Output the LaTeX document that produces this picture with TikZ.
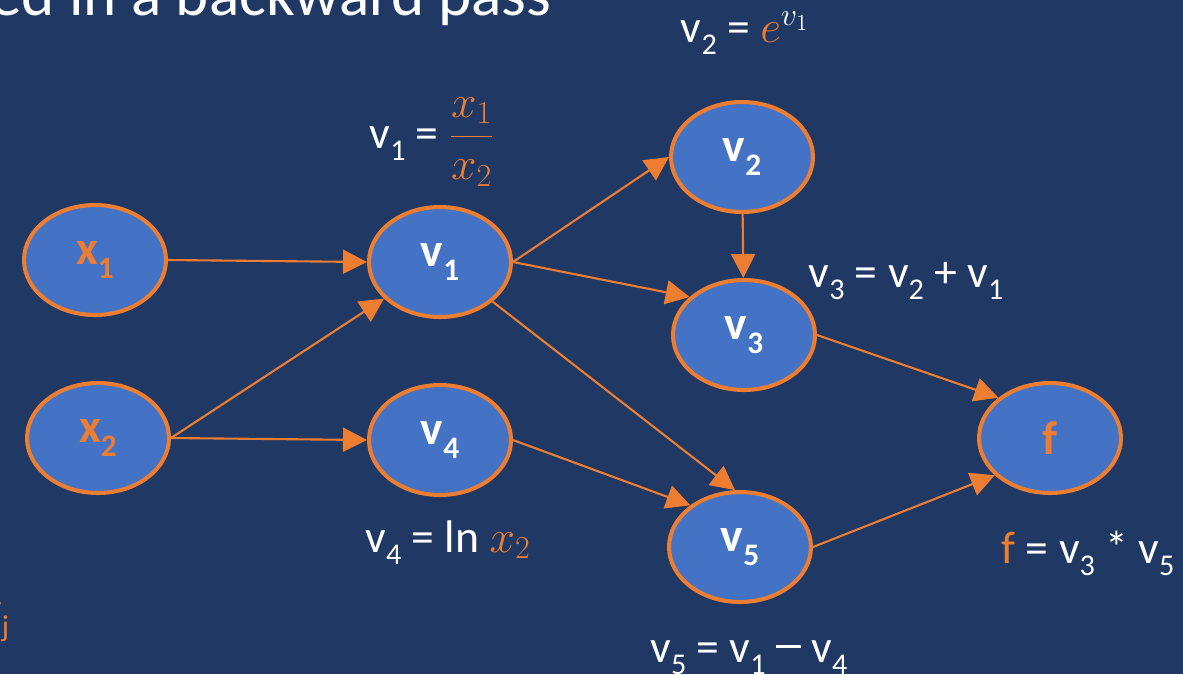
\RequirePackage{fix-cm}
\documentclass[tikz,border=0pt]{standalone}
\usepackage{fontspec}
\setmainfont{Carlito}
\usepackage{tikz}
\usetikzlibrary{positioning, arrows.meta, shapes.geometric}
\definecolor{slideblue}{HTML}{203864}
\definecolor{nodeblue}{HTML}{4472C4}
\definecolor{accent}{HTML}{ED7D31}
\newcommand{\ix}[1]{\raisebox{-0.28em}{\scalebox{0.66}{#1}}}
\newcommand{\minusbar}{\rule[0.3em]{0.55em}{0.07em}}

\begin{document}
\begin{tikzpicture}[x=0.02cm, y=-0.02cm,
    var/.style={ellipse, draw=accent, line width=2.3pt, fill=nodeblue,
                minimum width=2.84cm, minimum height=2.2cm, inner sep=0pt,
                font=\fontsize{27}{30}\selectfont\bfseries, text=white},
    inp/.style={var, text=accent},
    lbl/.style={anchor=base, inner sep=0pt, text=white, font=\fontsize{26}{30}\selectfont},
    edge/.style={draw=accent, line width=1.2pt, -{Triangle[length=0.48cm, width=0.48cm]}}]
    \useasboundingbox (0,0) rectangle (1183,674);
    \fill[slideblue] (0,0) rectangle (1183,674);
    \clip (0,0) rectangle (1183,674);

    % cut-off slide text
    \node[anchor=base west, inner sep=0pt, text=white, font=\fontsize{36}{40}\selectfont] (title) at (-10,15) {ed in a backward pass};
    \node[anchor=base west, inner sep=0pt, text=accent, font=\fontsize{26}{30}\selectfont] (vj) at (-19,624) {v\ix{j}};

    % graph
    \node[inp] (x1) at (95,260) {x\ix{1}};
    \node[inp] (x2) at (98,438) {x\ix{2}};
    \node[var] (v1) at (440,262) {v\ix{1}};
    \node[var] (v4) at (440,440) {v\ix{4}};
    \node[var] (v2) at (742,157) {v\ix{2}};
    \node[var] (v3) at (744,335) {v\ix{3}};
    \node[var] (v5) at (740,547) {v\ix{5}};
    \node[inp] (f) at (1050,438) {f};

    \draw[edge] (x1.east) -- (v1.west);
    \draw[edge] (x2.east) -- (v1);
    \draw[edge] (x2.east) -- (v4.west);
    \draw[edge] (v1.east) -- (v2.west);
    \draw[edge] (v1.east) -- (v3.145);
    \draw[edge] (v1.-37) -- (v5.95);
    \draw[edge] (v2) -- (v3);
    \draw[edge] (v4.east) -- (v5.140);
    \draw[edge] (v3.east) -- (f.142);
    \draw[edge] (v5.east) -- (f.214);

    % equations
    \node[lbl] (ev2) at (745,42) {v\ix{2} = $\textcolor{accent}{e}^{v_1}$};
    \node[lbl] (ev1) at (432,148) {v\ix{1} = \textcolor{accent}{$\displaystyle\frac{x_1}{x_2}$}};
    \node[lbl] (ev3) at (906,287) {v\ix{3} = v\ix{2} + v\ix{1}};
    \node[lbl] (ev4) at (448,552) {v\ix{4} = ln \textcolor{accent}{$x_2$}};
    \node[lbl] (ef) at (1088,563) {\textcolor{accent}{f} = v\ix{3} * v\ix{5}};
    \node[lbl] (ev5) at (749,662) {v\ix{5} = v\ix{1} \minusbar\ v\ix{4}};
\end{tikzpicture}
\end{document}
